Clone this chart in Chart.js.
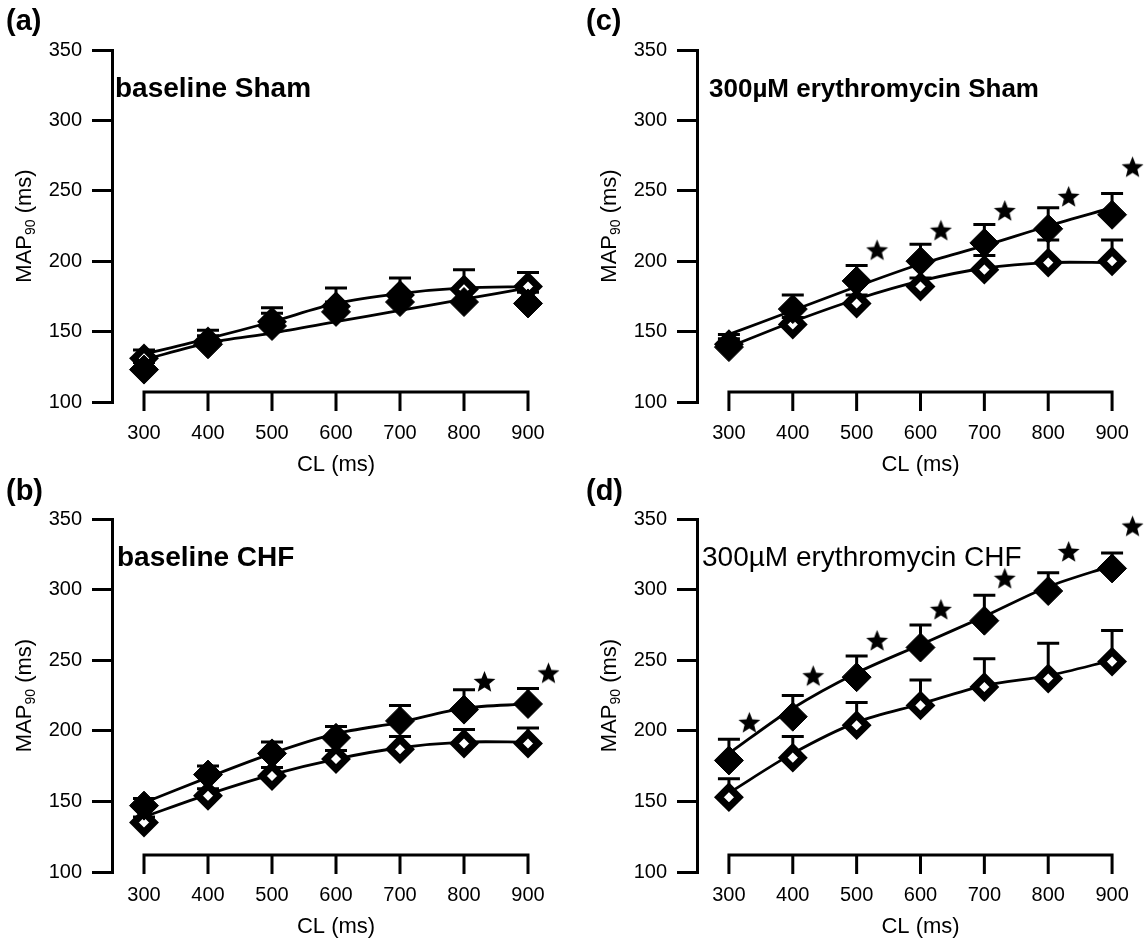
<!DOCTYPE HTML>
<html>
<head>
  <script src="https://cdn.jsdelivr.net/npm/chart.js"></script>
  <style>
    body { margin: 0; background: #fff; }
    canvas { position: absolute; }
  </style>
</head>
<body>
  <canvas id="pa" width="580" height="480" style="left:0;top:0"></canvas>
  <canvas id="pc" width="564" height="480" style="left:580px;top:0"></canvas>
  <canvas id="pb" width="580" height="469" style="left:0;top:470px"></canvas>
  <canvas id="pd" width="564" height="469" style="left:580px;top:470px"></canvas>

  <script>
    // cycle lengths and y ticks shared by all four panels
    var cl = [300, 400, 500, 600, 700, 800, 900];
    var yTicks = [100, 150, 200, 250, 300, 350];

    // (a) baseline Sham
    var aFilled = [123, 141, 154, 164, 171, 171, 170];
    var aFilledSem = [5, 6, 9, 7, 7, 8, 8];
    var aOpen = [131, 143, 157, 168, 176, 180, 182];
    var aOpenSem = [6, 8, 10, 13, 12, 14, 10];
    var aFitFilled = [130, 142, 149, 157, 165, 173, 181];
    var aFitOpen = [134, 145, 157, 170, 177, 181, 182];

    // (b) baseline CHF
    var bFilled = [147, 169, 184, 195, 207, 215, 219];
    var bFilledSem = [5, 6, 8, 8, 11, 14, 11];
    var bOpen = [135, 154, 168, 180, 187, 191, 191];
    var bOpenSem = [4, 5, 6, 6, 9, 10, 11];
    var bFitFilled = [149, 167, 184, 198, 206, 216, 219];
    var bFitOpen = [139, 155, 169, 180, 188, 192, 192];
    var bStars = [null, null, null, null, null, 235, 241];

    // (c) 300uM erythromycin Sham
    var cFilled = [139, 166, 186, 200, 213, 223, 233];
    var cFilledSem = [9, 10, 11, 12, 13, 15, 15];
    var cOpen = [141, 155, 170, 182, 194, 199, 200];
    var cOpenSem = [4, 5, 6, 6, 10, 16, 15];
    var cFitFilled = [148, 165, 182, 198, 211, 225, 238];
    var cFitOpen = [139, 157, 173, 186, 195, 199, 199];
    var cStars = [null, null, 208, 222, 236, 246, 267];

    // (d) 300uM erythromycin CHF
    var dFilled = [179, 210, 238, 259, 278, 299, 315];
    var dFilledSem = [15, 15, 15, 16, 18, 13, 11];
    var dOpen = [153, 181, 204, 218, 231, 237, 249];
    var dOpenSem = [13, 15, 16, 18, 20, 25, 22];
    var dFitFilled = [184, 216, 241, 261, 281, 302, 317];
    var dFitOpen = [156, 184, 206, 219, 232, 239, 250];
    var dStars = [206, 239, 264, 286, 308, 327, 345];

    var starShift = 32; // stars sit a bit right of their CL
    var FONT = "'Liberation Sans', Arial, sans-serif";

    function makeStar(size) {
      var c = document.createElement('canvas');
      c.width = c.height = size;
      var g = c.getContext('2d');
      g.fillStyle = '#000';
      g.beginPath();
      for (var i = 0; i < 10; i++) {
        var r = i % 2 ? size * 0.22 : size / 2;
        var ang = -Math.PI / 2 + i * Math.PI / 5;
        g.lineTo(size / 2 + r * Math.cos(ang), size / 2 + 1 + r * Math.sin(ang));
      }
      g.closePath();
      g.fill();
      return c;
    }
    var starImg = makeStar(23);

    var panels = [
      { id: 'pa', letter: '(a)', title: 'baseline Sham', weight: 'bold', tSize: 28, tDx: 3,
        top: 50, right: 20, yw: 112, xh: 78, lift: 10, labelPad: 20,
        filled: aFilled, filledSem: aFilledSem, open: aOpen, openSem: aOpenSem,
        fitFilled: aFitFilled, fitOpen: aFitOpen, stars: null },
      { id: 'pb', letter: '(b)', title: 'baseline CHF', weight: 'bold', tSize: 28, tDx: 5,
        top: 49, right: 20, yw: 112, xh: 67, lift: 17, labelPad: 12,
        filled: bFilled, filledSem: bFilledSem, open: bOpen, openSem: bOpenSem,
        fitFilled: bFitFilled, fitOpen: bFitOpen, stars: bStars },
      { id: 'pc', letter: '(c)', title: '300µM erythromycin Sham', weight: 'bold', tSize: 26, tDx: 12,
        top: 50, right: 0, yw: 117, xh: 78, lift: 10, labelPad: 20,
        filled: cFilled, filledSem: cFilledSem, open: cOpen, openSem: cOpenSem,
        fitFilled: cFitFilled, fitOpen: cFitOpen, stars: cStars },
      { id: 'pd', letter: '(d)', title: '300µM erythromycin CHF', weight: 'normal', tSize: 28, tDx: 5,
        top: 49, right: 0, yw: 117, xh: 67, lift: 17, labelPad: 12,
        filled: dFilled, filledSem: dFilledSem, open: dOpen, openSem: dOpenSem,
        fitFilled: dFitFilled, fitOpen: dFitOpen, stars: dStars }
    ];

    function pts(values, shift) {
      var out = [];
      for (var i = 0; i < cl.length; i++) {
        if (values[i] != null) out.push({ x: cl[i] + (shift || 0), y: values[i] });
      }
      return out;
    }

    // error bars (upward only), drawn under the markers
    var errorBars = {
      id: 'errorBars',
      beforeDatasetsDraw: function (chart) {
        var p = chart.config.options.panel;
        var xs = chart.scales.x, ys = chart.scales.y, ctx = chart.ctx;
        ctx.save();
        ctx.strokeStyle = '#000';
        ctx.lineWidth = 3;
        [[p.open, p.openSem], [p.filled, p.filledSem]].forEach(function (s) {
          for (var i = 0; i < cl.length; i++) {
            var x = xs.getPixelForValue(cl[i]);
            var y0 = ys.getPixelForValue(s[0][i]);
            var y1 = ys.getPixelForValue(s[0][i] + s[1][i]);
            ctx.beginPath();
            ctx.moveTo(x, y0); ctx.lineTo(x, y1);
            ctx.moveTo(x - 11, y1); ctx.lineTo(x + 11, y1);
            ctx.stroke();
          }
        });
        ctx.restore();
      }
    };

    // detached x axis, titles and panel letter
    var decor = {
      id: 'decor',
      afterDraw: function (chart) {
        var p = chart.config.options.panel;
        var xs = chart.scales.x, ys = chart.scales.y, ctx = chart.ctx, area = chart.chartArea;
        ctx.save();
        ctx.strokeStyle = '#000';
        ctx.fillStyle = '#000';
        ctx.lineWidth = 3;
        var ay = area.bottom - p.lift;
        ctx.beginPath();
        ctx.moveTo(xs.getPixelForValue(cl[0]), ay);
        ctx.lineTo(xs.getPixelForValue(cl[cl.length - 1]), ay);
        cl.forEach(function (v) {
          var x = xs.getPixelForValue(v);
          ctx.moveTo(x, ay - 1.5);
          ctx.lineTo(x, ay + 19);
        });
        ctx.stroke();

        // x title
        ctx.font = '22px ' + FONT;
        ctx.textAlign = 'center';
        ctx.textBaseline = 'middle';
        ctx.fillText('CL (ms)', xs.getPixelForValue(600), area.bottom + p.labelPad + 43);

        // y title with subscript
        var main = '22px ' + FONT, sub = '14px ' + FONT;
        ctx.font = main; var w1 = ctx.measureText('MAP').width, w3 = ctx.measureText(' (ms)').width;
        ctx.font = sub; var w2 = ctx.measureText('90').width;
        var total = w1 + w2 + w3;
        ctx.translate(area.left - 87, (area.top + area.bottom) / 2);
        ctx.rotate(-Math.PI / 2);
        ctx.textAlign = 'left';
        ctx.textBaseline = 'middle';
        ctx.font = main; ctx.fillText('MAP', -total / 2, 0);
        ctx.font = sub; ctx.fillText('90', -total / 2 + w1, 6);
        ctx.font = main; ctx.fillText(' (ms)', -total / 2 + w1 + w2, 0);
        ctx.setTransform(1, 0, 0, 1, 0, 0);

        // panel title inside the plot
        ctx.font = p.weight + ' ' + p.tSize + 'px ' + FONT;
        ctx.textAlign = 'left';
        ctx.fillText(p.title, area.left + p.tDx, ys.getPixelForValue(322));

        // panel letter
        ctx.font = 'bold 29px ' + FONT;
        ctx.fillText(p.letter, 6, 22);
        ctx.restore();
      }
    };

    panels.forEach(function (p) {
      var datasets = [
        { data: pts(p.fitFilled), showLine: true, borderColor: '#000', borderWidth: 2.8,
          pointRadius: 0, tension: 0.3, order: 5 },
        { data: pts(p.fitOpen), showLine: true, borderColor: '#000', borderWidth: 2.8,
          pointRadius: 0, tension: 0.3, order: 4 },
        { data: pts(p.open), pointStyle: 'rectRot', pointRadius: 10, borderWidth: 7,
          backgroundColor: '#fff', borderColor: '#000', order: 2, clip: false },
        { data: pts(p.filled), pointStyle: 'rectRot', pointRadius: 14.5, borderWidth: 1,
          backgroundColor: '#000', borderColor: '#000', order: 1, clip: false }
      ];
      if (p.stars) {
        datasets.push({ data: pts(p.stars, starShift), pointStyle: starImg, pointRadius: 11,
          order: 0, clip: false });
      }

      new Chart(document.getElementById(p.id), {
        type: 'scatter',
        data: { datasets: datasets },
        plugins: [errorBars, decor],
        options: {
          panel: p,
          responsive: false,
          animation: false,
          layout: { autoPadding: false, padding: { top: p.top, right: p.right, left: 0, bottom: 0 } },
          plugins: { legend: { display: false }, tooltip: { enabled: false } },
          scales: {
            x: {
              type: 'linear', min: 250, max: 950,
              afterBuildTicks: function (s) { s.ticks = cl.map(function (v) { return { value: v }; }); },
              afterFit: function (s) { s.height = p.xh; s.paddingLeft = 0; s.paddingRight = 0; },
              grid: { display: false, drawTicks: false },
              border: { display: false },
              ticks: { padding: p.labelPad - 1, color: '#000', font: { family: FONT, size: 20 } }
            },
            y: {
              min: 100, max: 350,
              afterBuildTicks: function (s) { s.ticks = yTicks.map(function (v) { return { value: v }; }); },
              afterFit: function (s) { s.width = p.yw; },
              grid: { drawOnChartArea: false, drawTicks: true, tickLength: 20, lineWidth: 3, color: '#000' },
              border: { display: true, width: 3, color: '#000' },
              ticks: { padding: 10, color: '#000', font: { family: FONT, size: 20 } }
            }
          }
        }
      });
    });
  </script>
</body>
</html>
